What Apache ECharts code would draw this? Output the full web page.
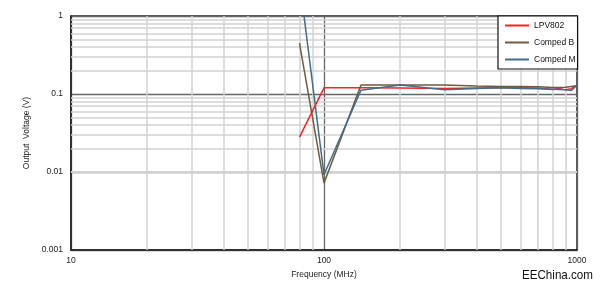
<!DOCTYPE html>
<html><head><meta charset="utf-8">
<script src="https://cdn.jsdelivr.net/npm/echarts@6/dist/echarts.min.js"></script>
<style>html,body{margin:0;padding:0;background:#fff}#c{width:600px;height:289px}</style>
</head><body><div id="c"></div>
<script>
// Frequencies (MHz)
const freqLPV = [80, 100, 140, 200, 300, 400, 500, 600, 700, 800, 850, 900, 950, 1000];
const lpv802  = [0.028, 0.12, 0.12, 0.119, 0.118, 0.119, 0.12, 0.12, 0.119, 0.114, 0.118, 0.113, 0.117, 0.13];
const freqB   = [80, 100, 140, 200, 300, 400, 500, 600, 700, 800, 900, 1000];
const compedB = [0.45, 0.0072, 0.13, 0.13, 0.13, 0.127, 0.125, 0.125, 0.124, 0.121, 0.122, 0.128];
const freqM   = [80, 100, 140, 200, 300, 400, 500, 600, 700, 800, 900, 950, 1000];
const compedM = [2.9, 0.0092, 0.112, 0.13, 0.113, 0.118, 0.12, 0.118, 0.117, 0.115, 0.113, 0.111, 0.13];
const seriesNames = ['LPV802', 'Comped B', 'Comped M'];
const xTickLabels = [10, 100, 1000];
const yTickLabels = [0.001, 0.01, 0.1, 1];

// minor grid line values (2..9 per decade)
const minorX = [], minorY = [];
[10, 100].forEach(d => { for (let k = 2; k <= 9; k++) minorX.push(k * d); });
[0.001, 0.01, 0.1].forEach(d => { for (let k = 2; k <= 9; k++) minorY.push(+(k * d).toFixed(4)); });

const pairs = (xs, ys) => xs.map((x, i) => [x, ys[i]]);
const FONT = '"Liberation Sans", Arial, sans-serif';

const chart = echarts.init(document.getElementById('c'), null, {renderer: 'canvas'});
chart.setOption({
  animation: false,
  backgroundColor: '#fff',
  grid: {left: 71, right: 23, top: 16, bottom: 39, show: true, borderColor: '#222', borderWidth: 1.5, backgroundColor: 'transparent'},
  legend: {
    data: seriesNames,
    orient: 'vertical',
    left: 498, top: 16, z: 20,
    padding: [5, 2, 5, 6],
    itemWidth: 24, itemHeight: 10, itemGap: 8,
    backgroundColor: '#fff',
    borderColor: '#111', borderWidth: 1.2, borderRadius: 0,
    itemStyle: {opacity: 0},
    lineStyle: {width: 2},
    textStyle: {fontFamily: FONT, fontSize: 8.5, color: '#111'}
  },
  xAxis: {
    type: 'log', logBase: 10, min: 10, max: 1000,
    name: 'Frequency (MHz)', nameLocation: 'middle', nameGap: 19,
    nameTextStyle: {fontFamily: FONT, fontSize: 8.5, color: '#222'},
    axisLine: {show: true, lineStyle: {color: '#222', width: 1.5}},
    axisTick: {show: false},
    axisLabel: {fontFamily: FONT, fontSize: 8.5, color: '#222', margin: 6,
      formatter: v => xTickLabels.includes(Math.round(v)) ? String(Math.round(v)) : ''},
    splitLine: {show: true, lineStyle: {color: '#666', width: 1.3}}
  },
  yAxis: {
    type: 'log', logBase: 10, min: 0.001, max: 1,
    name: 'Output  Voltage (V)', nameLocation: 'middle', nameGap: 37,
    nameTextStyle: {fontFamily: FONT, fontSize: 8.5, color: '#222'},
    axisLine: {show: true, lineStyle: {color: '#222', width: 1.5}},
    axisTick: {show: false},
    axisLabel: {fontFamily: FONT, fontSize: 8.5, color: '#222', margin: 8,
      formatter: v => { const t = yTickLabels.find(y => Math.abs(y - v) / y < 1e-6); return t === undefined ? '' : String(t); }},
    splitLine: {show: true, lineStyle: {color: '#666', width: 1.3}}
  },
  series: [
    {
      name: 'minor-grid', type: 'line', data: [], silent: true, z: 1,
      markLine: {
        silent: true, z: 1, symbol: ['none', 'none'], label: {show: false}, animation: false,
        emphasis: {disabled: true},
        lineStyle: {color: '#d2d2d2', width: 1.5, type: 'solid'},
        data: [...minorX.map(v => ({xAxis: v})), ...minorY.map(v => ({yAxis: v}))]
      }
    },
    {name: 'LPV802', type: 'line', data: pairs(freqLPV, lpv802), symbol: 'none', z: 3,
      lineStyle: {color: '#ff2020', width: 1.5}, itemStyle: {color: '#ff2020'}},
    {name: 'Comped B', type: 'line', data: pairs(freqB, compedB), symbol: 'none', z: 3,
      lineStyle: {color: '#6e5c3e', width: 1.5}, itemStyle: {color: '#6e5c3e'}},
    {name: 'Comped M', type: 'line', data: pairs(freqM, compedM), symbol: 'none', z: 4,
      lineStyle: {color: '#3f6e8c', width: 1.5}, itemStyle: {color: '#3f6e8c'}}
  ],
  graphic: [{
    type: 'text', left: 522, top: 268, scaleX: 0.86,
    style: {text: 'EEChina.com', font: '13.5px "Liberation Sans", Arial, sans-serif', fill: '#111'}
  }]
});
</script></body></html>
